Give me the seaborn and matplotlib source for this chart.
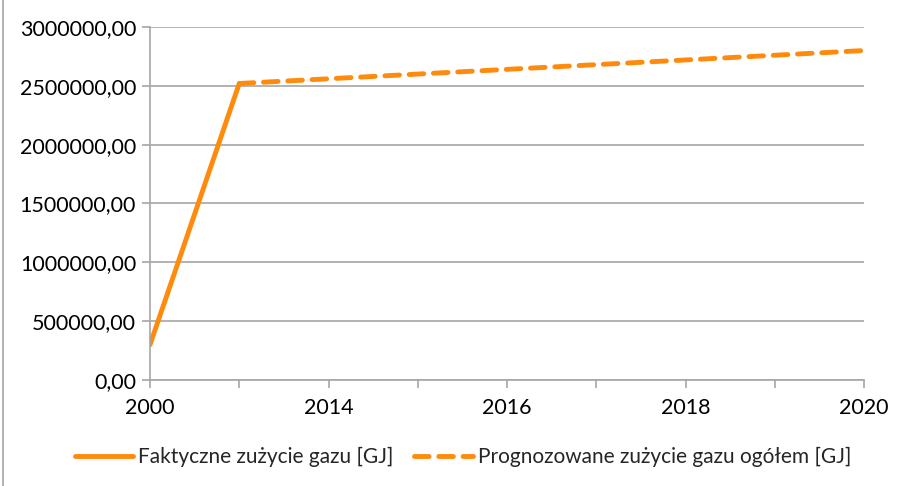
import matplotlib
matplotlib.use('Agg')
import matplotlib.pyplot as plt
import seaborn as sns
import pandas as pd
from matplotlib.lines import Line2D
from matplotlib.ticker import FuncFormatter

# data
years = ['2000', '2013', '2014', '2015', '2016', '2017', '2018', '2019', '2020']
actual_years = ['2000', '2013']
actual_values = [300000, 2520000]
forecast_years = ['2013', '2014', '2015', '2016', '2017', '2018', '2019', '2020']
forecast_values = [2520000, 2560000, 2600000, 2640000, 2680000, 2720000, 2760000, 2800000]

label_actual = 'Faktyczne zużycie gazu [GJ]'
label_forecast = 'Prognozowane zużycie gazu ogółem [GJ]'

sns.set_theme(style='white')
plt.rcParams['font.family'] = ['Lato', 'DejaVu Sans']
plt.rcParams['lines.scale_dashes'] = True

orange = '#ff8a0c'
grid_col = '#a6a6a6'
lw = 3.5
dash = [3.0, 2.0]

pos = {y: i for i, y in enumerate(years)}
df_act = pd.DataFrame({'x': [pos[y] for y in actual_years], 'val': actual_values})
df_fc = pd.DataFrame({'x': [pos[y] for y in forecast_years], 'val': forecast_values})

fig = plt.figure(figsize=(8.99, 4.86), dpi=100)
ax = fig.add_axes([150 / 899, 1 - 380 / 486, (864 - 150) / 899, (380 - 27) / 486])

sns.lineplot(data=df_act, x='x', y='val', ax=ax, color=orange, linewidth=lw,
             label=label_actual, solid_capstyle='round', legend=False)
sns.lineplot(data=df_fc, x='x', y='val', ax=ax, color=orange, linewidth=lw,
             label=label_forecast, legend=False)
ax.lines[1].set_dashes(dash)
ax.lines[1].set_dash_capstyle('round')

ax.set_xlim(0, len(years) - 1)
ax.set_ylim(0, 3000000)
ax.set_yticks(range(0, 3000001, 500000))
ax.yaxis.set_major_formatter(FuncFormatter(lambda v, p: f'{v:.2f}'.replace('.', ',')))
ax.set_xticks(range(len(years)))
ax.set_xticklabels([y if i % 2 == 0 else '' for i, y in enumerate(years)])

ax.grid(axis='y', color=grid_col, linewidth=1.2)
ax.set_axisbelow(True)
for s in ['top', 'right']:
    ax.spines[s].set_visible(False)
for s in ['left', 'bottom']:
    ax.spines[s].set_color(grid_col)
    ax.spines[s].set_linewidth(1.2)
ax.tick_params(axis='both', which='both', length=6, width=1.2, color=grid_col,
               labelsize=15.5, labelcolor='black', direction='out', bottom=True, left=True)
ax.tick_params(axis='x', pad=7)
ax.tick_params(axis='y', pad=4)
ax.set_xlabel('')
ax.set_ylabel('')

handles = [
    Line2D([0], [0], color=orange, linewidth=lw, solid_capstyle='round'),
    Line2D([0], [0], color=orange, linewidth=lw, dashes=dash, dash_capstyle='round'),
]
fig.legend(handles, [label_actual, label_forecast], loc='center',
           bbox_to_anchor=(0.515, 1 - 457 / 486), ncol=2, frameon=False,
           fontsize=15, handlelength=2.8, handletextpad=0.25, columnspacing=1.0)

# chart frame edge visible on the left
fig.add_artist(Line2D([3 / 899, 3 / 899], [0, 1], color=grid_col, linewidth=1.2))

fig.savefig('out.png', dpi=100)
